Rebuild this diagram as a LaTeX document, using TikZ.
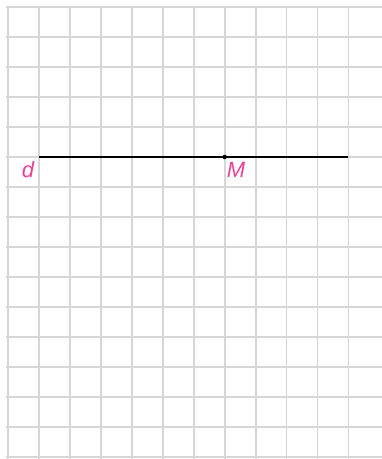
\documentclass[tikz,border=0pt]{standalone}
\usepackage{fontspec}
\usepackage{tikz}
\usetikzlibrary{positioning, calc}
\newfontfamily\handfont{Liberation Sans}
\definecolor{GridGray}{RGB}{214,214,214}
\definecolor{LabelPink}{RGB}{238,62,152}

\begin{document}
\begin{tikzpicture}[x=1pt,y=-1pt,
        gridline/.style={GridGray,line width=1.8pt},
        dline/.style={black,line width=1.6pt},
        ptdot/.style={circle,fill=black,inner sep=0pt,minimum size=4.5pt},
        lbl/.style={text=LabelPink,font=\handfont\itshape\fontsize{22}{22}\selectfont,inner sep=0pt}
      ]
        \useasboundingbox (0,0) rectangle (382,459);
        % grid
        \foreach \j in {0,...,15}
          \draw[gridline] (6,7+30*\j) -- (382,7+30*\j);
        \foreach \i in {0,...,11}
          \draw[gridline] (8+30.95*\i,6) -- (8+30.95*\i,459);
        % line d and point M
        \coordinate (dstart) at (38.95,157);
        \coordinate (dend) at (348.45,157);
        \draw[dline] (dstart) -- (dend);
        \node[ptdot] (M) at (224.65,157) {};
        \node[lbl] (dlabel) at (28,170) {d};
        \node[lbl] (Mlabel) at (236,170) {M};
      \end{tikzpicture}
\end{document}
